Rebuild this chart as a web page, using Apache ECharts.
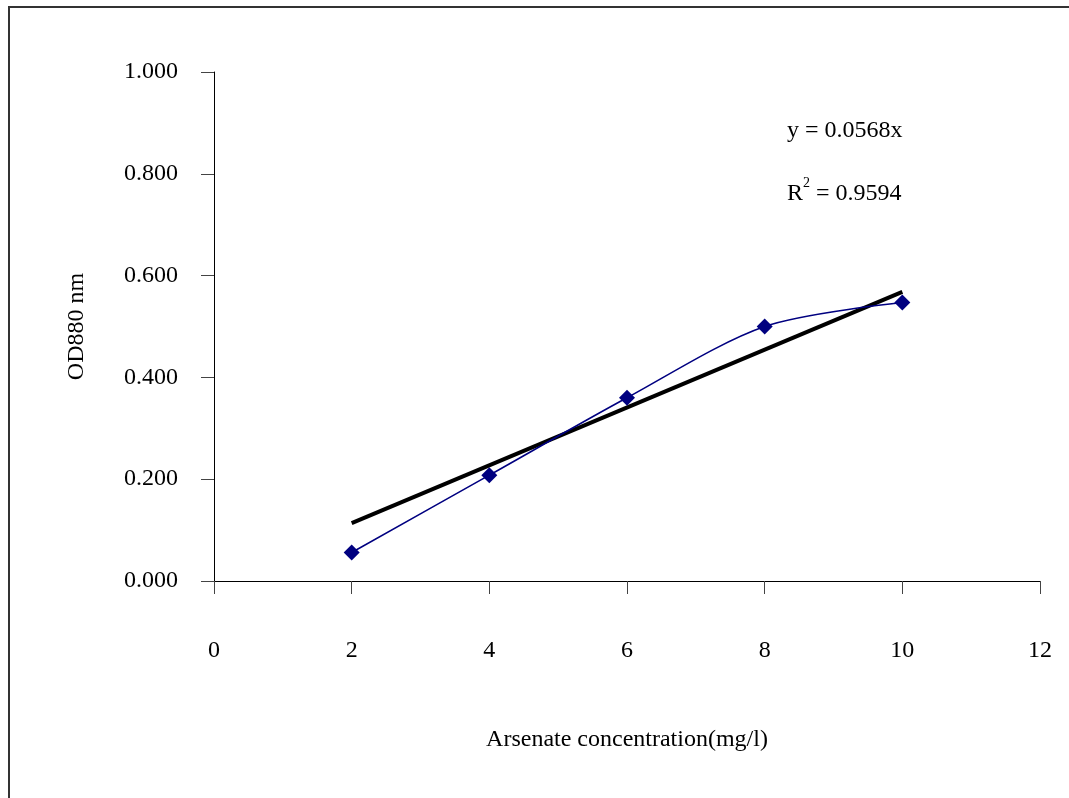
<!DOCTYPE html>
<html>
<head>
<meta charset="utf-8">
<script src="https://cdn.jsdelivr.net/npm/echarts@6/dist/echarts.min.js"></script>
<style>
  html, body {margin: 0; padding: 0; background: #fff;}
  #chart {width: 1069px; height: 798px;}
</style>
</head>
<body>
<div id="chart"></div>
<script>
// 数据
const concentrations = [2, 4, 6, 8, 10];
const odValues = [0.056, 0.208, 0.360, 0.500, 0.547];
const slope = 0.0568;
const trendX = [2, 10];
const equationText = 'y = 0.0568x';
const r2Value = '0.9594';

const serif = '"Liberation Serif", "Times New Roman", serif';

const chart = echarts.init(document.getElementById('chart'), null, {renderer: 'canvas'});

const option = {
  backgroundColor: '#fff',
  animation: false,
  textStyle: {fontFamily: serif},
  grid: {left: 214, right: 29, top: 72, bottom: 217},
  xAxis: {
    type: 'value',
    min: 0,
    max: 12,
    interval: 2,
    name: 'Arsenate concentration(mg/l)',
    nameLocation: 'middle',
    nameGap: 147,
    nameTextStyle: {fontFamily: serif, fontSize: 24, color: '#000'},
    axisLine: {lineStyle: {color: '#000', width: 1}},
    axisTick: {inside: false, length: 13, lineStyle: {color: '#444'}},
    axisLabel: {margin: 58, fontFamily: serif, fontSize: 24, color: '#000'},
    splitLine: {show: false}
  },
  yAxis: {
    type: 'value',
    min: 0,
    max: 1,
    interval: 0.2,
    name: 'OD880 nm',
    nameLocation: 'middle',
    nameGap: 125,
    nameRotate: 90,
    nameTextStyle: {fontFamily: serif, fontSize: 24, color: '#000'},
    axisLine: {show: true, lineStyle: {color: '#000', width: 1}},
    axisTick: {show: true, inside: false, length: 13, lineStyle: {color: '#444'}},
    axisLabel: {
      margin: 36,
      fontFamily: serif,
      fontSize: 24,
      color: '#000',
      formatter: v => v.toFixed(3)
    },
    splitLine: {show: false}
  },
  series: [
    {
      // 趋势线
      type: 'line',
      data: trendX.map(x => [x, slope * x]),
      symbol: 'none',
      lineStyle: {color: '#000', width: 4},
      z: 2
    },
    {
      type: 'line',
      data: concentrations.map((x, i) => [x, odValues[i]]),
      smooth: 0.3,
      symbol: 'diamond',
      symbolSize: 16,
      itemStyle: {color: '#000080'},
      lineStyle: {color: '#000080', width: 1.6},
      z: 3
    }
  ],
  graphic: [
    // 外框（只露出上边和左边）
    {
      type: 'rect',
      shape: {x: 9, y: 7, width: 1100, height: 820},
      style: {fill: 'none', stroke: '#333', lineWidth: 2},
      silent: true
    },
    {
      type: 'text',
      left: 787,
      top: 119,
      style: {text: equationText, font: '24px ' + serif, fill: '#000'}
    },
    {
      type: 'text',
      left: 787,
      top: 176,
      style: {
        text: '{r|R}{s|2}{t| = ' + r2Value + '}',
        rich: {
          r: {fontFamily: serif, fontSize: 24, fill: '#000', verticalAlign: 'bottom'},
          s: {fontFamily: serif, fontSize: 14, fill: '#000', verticalAlign: 'top', padding: [0, 0, 16, 0]},
          t: {fontFamily: serif, fontSize: 24, fill: '#000', verticalAlign: 'bottom'}
        }
      }
    }
  ]
};

chart.setOption(option);
</script>
</body>
</html>
